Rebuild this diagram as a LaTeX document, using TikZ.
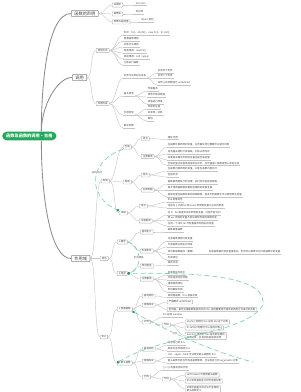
\documentclass[tikz,border=0pt]{standalone}
\usepackage{fontspec}
\setmainfont{Noto Sans CJK SC}
\usetikzlibrary{arrows.meta}
\definecolor{rootgreen}{RGB}{35,168,92}
\definecolor{relgreen}{RGB}{118,212,162}
\definecolor{dotgreen}{RGB}{28,150,80}
\definecolor{linegray}{RGB}{196,196,196}
\definecolor{boxgray}{RGB}{178,178,178}
\definecolor{trunkgray}{RGB}{140,140,140}
\definecolor{txtgray}{RGB}{70,70,70}

\tikzset{
	root/.style={fill=rootgreen,text=white,rounded corners=2.4mm,inner xsep=2mm,inner ysep=1.2mm,font=\fontsize{6}{7}\selectfont\bfseries,anchor=west},
	topic/.style={draw=trunkgray,fill=white,line width=0.9pt,rounded corners=0.4mm,inner xsep=1.5mm,inner ysep=0.6mm,font=\fontsize{6}{7}\selectfont,text=txtgray,anchor=west},
	sub/.style={draw=boxgray,fill=white,line width=0.6pt,rounded corners=0.3mm,inner xsep=0.8mm,inner ysep=0.45mm,font=\fontsize{3.5}{4.2}\selectfont,text=txtgray,align=left,anchor=west},
	leaf/.style={inner xsep=0.4mm,inner ysep=0.35mm,font=\fontsize{3.5}{4.2}\selectfont,text=txtgray,anchor=south west,
		append after command={(\tikzlastnode.south west) edge[draw=linegray,line width=0.6pt] (\tikzlastnode.south east)}},
	trunk/.style={draw=trunkgray,line width=1.2pt},
	link/.style={draw=linegray,line width=0.6pt},
	branch/.style={out=0,in=180,max distance=3mm},
	rel/.style={draw=relgreen,line width=0.9pt,dash pattern=on 2.5mm off 1.5mm},
	rellab/.style={font=\fontsize{3.5}{4.2}\selectfont,text=txtgray,fill=white,inner sep=0.3mm},
}

\begin{document}
\begin{tikzpicture}[x=0.5mm,y=-0.5mm]
	\useasboundingbox (0,0) rectangle (300,392);
	\node[root] (root) at (2,136) {函数及函数的调用·合格};
	\node[topic] (decl) at (71,13.5) {函数的声明};
	\node[topic] (call) at (72,77.5) {调用};
	\node[topic] (scope) at (71,258.5) {作用域};
	\draw[trunk] ([xshift=6mm]root.north) .. controls +(0,-40) and +(-25,0) .. (decl.west);
	\draw[trunk] ([xshift=6mm]root.north) .. controls +(0,-25) and +(-15,0) .. (call.west);
	\draw[trunk] ([xshift=6mm]root.south) .. controls +(0,60) and +(-20,0) .. (scope.west);

	\foreach \n/\y/\t/\lx/\l in {kw/5/关键字/135/function,nm/14/函数名/135/标识符,pr/22/参数与返回值/140/{return 语句}}{
		\node[sub] (\n) at (112,\y) {\t};
		\node[leaf] (\n1) at (\lx,\y) {\l};
		\draw[link] (decl.east) to[branch] (\n.west);
		\draw[link] (\n.east) to[branch] (\n1.south west);
	}

	\node[sub] (way) at (96,50.5) {调用方式};
	\node[sub] (arg) at (96,103.5) {参数传递};
	\foreach \n in {way,arg} \draw[link] (call.east) to[branch] (\n.west);
	\foreach \y/\t [count=\i] in {35/{形式：fn()、obj.fn()、new Fn()、fn.call()},41/{普通函数调用},47/{对象方法调用},53/{构造调用：new Fn()},59/{间接调用：call / apply},65/{立即执行函数}}{
		\node[leaf] (way\i) at (123,\y) {\t};
		\draw[link] (way.east) to[branch] (way\i.south west);
	}
	\foreach \y/\t [count=\i] in {78/形参与实参对应关系,96/基本类型,115/引用类型,128/剩余参数}{
		\node[leaf] (arg\i) at (123,\y) {\t};
		\draw[link] (arg.east) to[branch] (arg\i.south west);
	}
	\foreach \p/\x/\y/\t [count=\i] in {arg1/157/73/实参多于形参,arg1/157/78/实参少于形参,arg1/157/85/{未传入的参数值为 undefined},
		arg2/147/91/传递副本,arg2/147/97/修改不影响原值,arg2/147/104/按值进行传递,
		arg3/147/109/传递地址值,arg3/147/115/共享同一对象,arg3/147/121/数组}{
		\node[leaf] (argx\i) at (\x,\y) {\t};
		\draw[link] (\p.south east) to[branch] (argx\i.south west);
	}

	\node[sub] (kind) at (101,181) {种类};
	\node[sub] (clo) at (100,258.5) {闭包};
	\node[sub] (ths) at (100,337) {this};
	\foreach \n in {kind,clo,ths} \draw[link] (scope.east) to[branch] (\n.west);

	\node[sub] (glob) at (123,147) {全局};
	\node[sub] (loc) at (123,182) {局部};
	\node[sub] (blk) at (119,213) {块级};
	\foreach \n in {glob,loc,blk} \draw[link] (kind.east) to[branch] (\n.west);
	\foreach \p/\n/\x/\y/\t in {glob/globA/141/138.5/特点,glob/globB/141/156.5/注意事项,loc/locA/141/175/特点,loc/locB/141/190/生命周期,blk/blkA/139/206/特点,blk/blkB/139/221/注意事项}{
		\node[sub] (\n) at (\x,\y) {\t};
		\draw[link] (\p.east) to[branch] (\n.west);
	}
	\foreach \p/\y/\t [count=\i] in {globA/139.5/随处可用,
		globB/147/{在函数外部声明的变量，在页面任何位置都可以被访问到},globB/154/{浏览器关闭时才会销毁，比较占用内存},
		globB/160/{未使用关键字声明的变量也是全局变量},globB/165.5/{全局变量过多容易造成命名冲突，应尽量减少使用或放入命名空间},
		locA/171/{在函数内部声明的变量，只能在函数内部访问},locA/177/包括形参,
		locB/184/{函数被调用执行时创建，执行完毕后就会销毁},locB/190/{每次调用函数都会重新创建新的局部变量},
		locB/197/{局部变量在函数结束后即被释放，因此不同函数中可以使用同名变量},
		blkA/202/{ES6 新增特性},blkA/208/{花括号 \{\} 内用 let 或 const 声明的变量只在块内有效},
		blkB/215/{在 if、for 等语句块中声明的变量，外部不能访问},blkB/220/{用 var 声明的变量不受块级作用域的限制约束},
		blkB/226/{在同一个块中 let 不能重复声明同名的变量}}{
		\node[leaf] (kl\i) at (167,\y) {\t};
		\draw[link] (\p.east) to[branch] (kl\i.south west);
	}

	\node[sub] (cloA) at (117,242) {1.概念};
	\node[sub] (cloB) at (117,273.5) {2.用途};
	\foreach \n in {cloA,cloB} \draw[link] (clo.east) to[branch] (\n.west);
	\foreach \p/\n/\y/\t in {cloA/cloA1/232/基本定义,cloA/cloA2/251/形成条件,cloB/cloB1/266/常见用途,cloB/cloB2/279/注意事项}{
		\node[sub] (\n) at (140,\y) {\t};
		\draw[link] (\p.east) to[branch] (\n.west);
	}
	\foreach \p/\y/\t [count=\i] in {cloA1/232/函数嵌套函数,cloA2/241/内层函数使用外层变量,cloA2/247/外层函数已经执行结束,
		cloA2/254/将内部函数返回（重要）,cloA2/260/形成闭包,cloB1/265/保存状态,
		cloB2/275/变量常驻内存中,cloB2/280/可能造成内存泄漏,cloB2/286/谨慎使用闭包,cloB2/292/及时解除引用}{
		\node[leaf] (cl\i) at (167,\y) {\t};
		\draw[link] (\p.east) to[branch] (cl\i.south west);
	}
	\node[leaf] (cl4x) at (208,254) {内部函数被外部变量接收后，仍然可以继续访问外层函数中的变量};
	\draw[link] (cl4.south east) -- (cl4x.south west);

	\node[sub] (thsA) at (117,309) {1.普通函数};
	\node[sub] (thsB) at (117,363) {2.箭头函数};
	\foreach \n in {thsA,thsB} \draw[link] (ths.east) to[branch] (\n.west);
	\foreach \p/\n/\y/\t in {thsA/thsA1/296/指向规则,thsA/thsA2/305/特殊情况,thsA/thsA3/322/示例,thsB/thsB1/349/指向规则,thsB/thsB2/361/特殊情况,thsB/thsB3/377/示例}{
		\node[sub] (\n) at (142,\y) {\t};
		\draw[link] (\p.east) to[branch] (\n.west);
	}
	\foreach \p/\x/\y/\t [count=\i] in {thsA1/167/297.5/{谁调用函数，this 就指向谁},thsA3/162/317/{fn() 指向 window},
		thsB1/167/345/{没有自己的 this},thsB1/167/351/{继承外层作用域 this},
		thsB2/167/357/{call、apply、bind 无法改变箭头函数的 this},thsB2/167/363/{箭头函数不能当作构造函数使用，也没有自己的 arguments 对象},
		thsB3/162/370/{() => \{\} 的基本用法示例}}{
		\node[leaf] (tl\i) at (\x,\y) {\t};
		\draw[link] (\p.east) to[branch] (tl\i.south west);
	}
	\node[sub] (thsAc) at (162,325) {代码};
	\node[sub] (thsBc) at (162,379) {代码};
	\draw[link] (thsA3.east) to[branch] (thsAc.west);
	\draw[link] (thsB3.east) to[branch] (thsBc.west);
	\foreach \p/\x/\y/\t [count=\i] in {thsA2/167/302/{严格模式 undefined},thsA2/167/309.5/{定时器、事件处理函数等回调中的 this 指向需要结合具体的调用方式来分析判断},
		thsAc/185/322/{obj.fn() 调用时 this 指向 obj 这个对象},thsAc/185/328/{fn.call(o) 调用时 this 指向对象 o},
		thsAc/185/336/{new Fn() 调用时 this 指向新创建的\\实例对象，并且自动返回该实例},
		thsBc/185/375/{setTimeout 中使用箭头函数},thsBc/185/381/{this 始终指向定义时外层的对象},
		thsBc/185/389/{对象字面量中的方法不宜使用\\箭头函数定义}}{
		\node[sub] (tb\i) at (\x,\y) {\t};
		\draw[link] (\p.east) to[branch] (tb\i.west);
	}

	\coordinate (dEnd) at (253,362);
	\draw[rel,-{Circle[length=1.2mm,color=dotgreen]}] (glob.south west) .. controls (90,160) and (85,195) .. node[rellab,pos=0.42] (lab1) {由内向外} (blk.north west);
	\draw[rel,-{Circle[length=1.2mm,color=dotgreen]}] (cloA.east) .. controls (142,245) and (143,270) .. node[rellab] (lab2) {引出用途} (cloB.east);
	\draw[rel,{Circle[length=1.2mm,color=dotgreen]}-{Circle[length=1.2mm,color=dotgreen]}] (thsB.west) .. controls (160,335) and (245,335) .. (263,305) .. controls (266,280) and (220,272) .. (cloB.east);
	\draw[rel,{Circle[length=1.2mm,color=dotgreen]}-] (thsA.south east) .. controls (150,322) and (205,350) .. node[rellab,pos=0.45] (lab3) {对比} (dEnd);
\end{tikzpicture}
\end{document}
